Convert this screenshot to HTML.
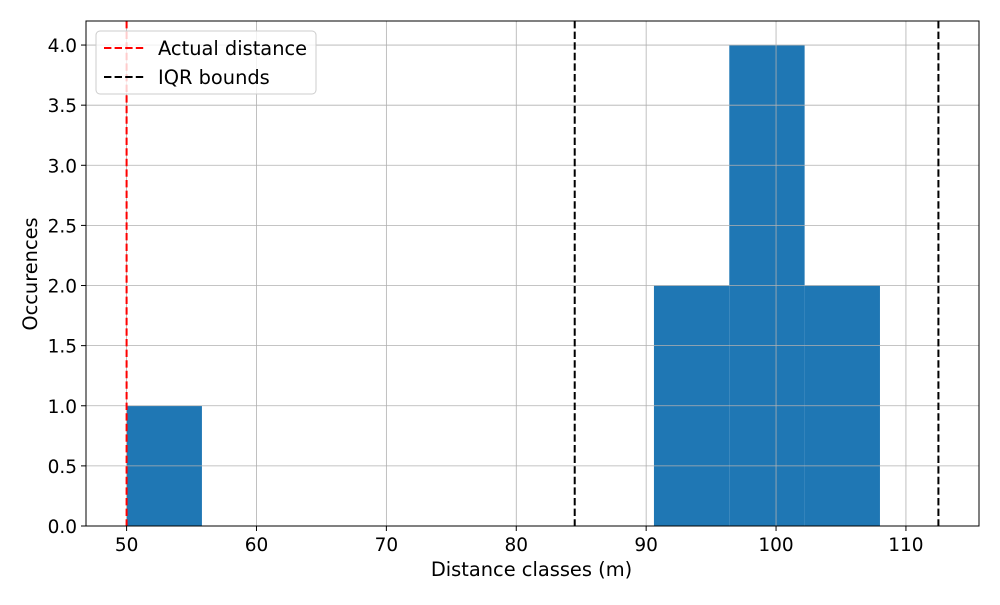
<!DOCTYPE html>
<html><head><meta charset="utf-8"><style>
body{margin:0;background:#fff;font-family:"Liberation Sans","DejaVu Sans",sans-serif}
svg text{font-family:"DejaVu Sans","Liberation Sans",sans-serif;fill:#000}
</style></head><body>
<svg id="chart" width="1000" height="600"></svg>
<script>
const binEdges=[50,55.8,61.6,67.4,73.2,79,84.8,90.6,96.4,102.2,108];
const counts=[1,0,0,0,0,0,0,2,4,2];
const actualDistance=50;
const iqrBounds=[84.5,112.5];
const xTicks=[50,60,70,80,90,100,110];
const yTicks=[0,0.5,1,1.5,2,2.5,3,3.5,4];
const X0=86,X1=979,Y0=526,Y1=21,xmin=46.875,xmax=115.625,ymin=0,ymax=4.2;
const sx=v=>X0+(v-xmin)/(xmax-xmin)*(X1-X0);
const sy=v=>Y0-(v-ymin)/(ymax-ymin)*(Y0-Y1);
const svg=document.getElementById('chart');const NS='http://www.w3.org/2000/svg';
function mk(t,a,p){const e=document.createElementNS(NS,t);for(const k in a)e.setAttribute(k,a[k]);(p||svg).appendChild(e);return e;}
const bars=mk('g',{});


counts.forEach((c,i)=>{if(c<=0)return;const r=mk('rect',{x:sx(binEdges[i]),y:sy(c),width:sx(binEdges[i+1])-sx(binEdges[i]),height:sy(0)-sy(c),fill:'#1f77b4'},bars);

});
const grid=mk('g',{stroke:'#b0b0b0','stroke-width':0.8});


xTicks.forEach(t=>mk('line',{x1:sx(t),x2:sx(t),y1:Y1,y2:Y0},grid));
yTicks.forEach(t=>mk('line',{x1:X0,x2:X1,y1:sy(t),y2:sy(t)},grid));
const al=mk('line',{x1:sx(actualDistance),x2:sx(actualDistance),y1:Y1,y2:Y0,stroke:'red','stroke-width':2,'stroke-dasharray':'7.4,3.2'});


iqrBounds.forEach((b,i)=>{const l=mk('line',{x1:sx(b),x2:sx(b),y1:Y1,y2:Y0,stroke:'#000','stroke-width':2,'stroke-dasharray':'7.4,3.2'});

});
const fr=mk('rect',{x:X0,y:Y1,width:X1-X0,height:Y0-Y1,fill:'none',stroke:'#000','stroke-width':1});


xTicks.forEach(t=>{mk('line',{x1:sx(t),x2:sx(t),y1:Y0,y2:Y0+5,stroke:'#000'});const tx=mk('text',{x:sx(t),y:Y0+25,'text-anchor':'middle','font-size':18.5});tx.textContent=t;

});
yTicks.forEach(t=>{mk('line',{x1:X0-5,x2:X0,y1:sy(t),y2:sy(t),stroke:'#000'});const tx=mk('text',{x:X0-9,y:sy(t)+7,'text-anchor':'end','font-size':18.5});tx.textContent=t.toFixed(1);

});
const xt=mk('text',{x:(X0+X1)/2-1,y:576,'text-anchor':'middle','font-size':19.4});xt.textContent='Distance classes (m)';


const yt=mk('text',{x:0,y:0,'text-anchor':'middle','font-size':19.4,transform:'translate(37,274) rotate(-90)'});yt.textContent='Occurences';


const lg=mk('g',{});


mk('rect',{x:96,y:31,width:220,height:63,rx:4,fill:'#fff','fill-opacity':0.8,stroke:'#ccc'},lg);
[['Actual distance','red',48],['IQR bounds','#000',77]].forEach(([n,c,y])=>{mk('line',{x1:104,x2:146,y1:y,y2:y,stroke:c,'stroke-width':2,'stroke-dasharray':'7.4,3.2'},lg);const t=mk('text',{x:158,y:y+7,'font-size':19.4},lg);t.textContent=n;

});
</script>
</body></html>
